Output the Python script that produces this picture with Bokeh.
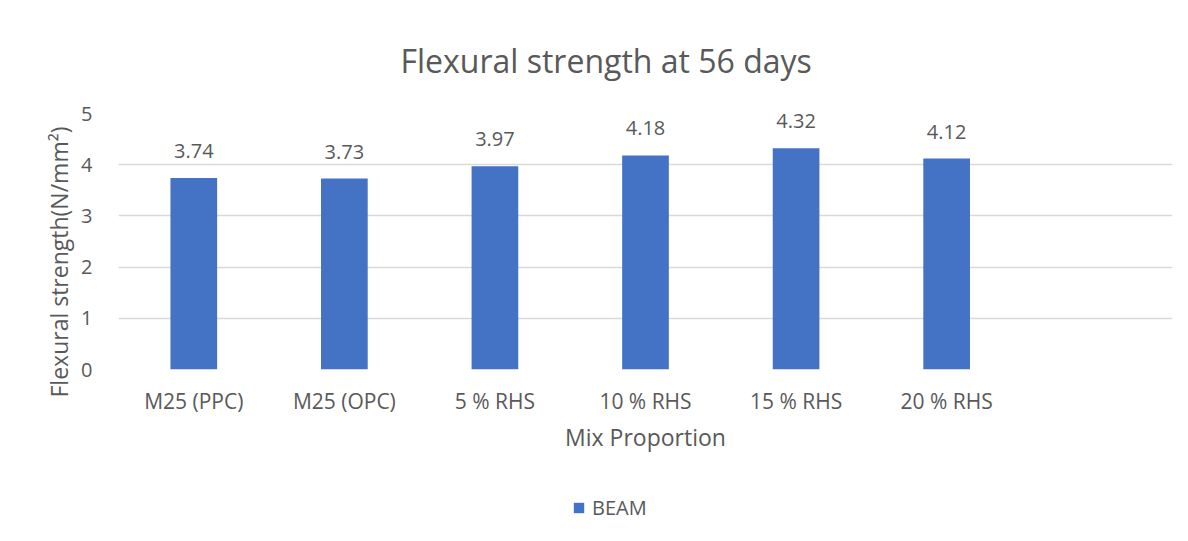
from bokeh.plotting import figure
from bokeh.layouts import column
from bokeh.models import Range1d, FixedTicker, Legend, LegendItem, ColumnDataSource, Title
from bokeh.core.properties import value
from bokeh.embed import file_html
from bokeh.resources import INLINE

categories = ["M25 (PPC)", "M25 (OPC)", "5 % RHS", "10 % RHS", "15 % RHS", "20 % RHS"]
beam = [3.74, 3.73, 3.97, 4.18, 4.32, 4.12]
y_ticks = [0, 1, 2, 3, 4, 5]
n_slots = 7  # Excel left an empty slot on the right
series_name = "BEAM"

FONT = "Open Sans"
TXT = "#595959"
BAR = "#4472C4"
GRID = "#D9D9D9"

xs = [i + 0.5 for i in range(len(categories))]
src = ColumnDataSource(dict(x=xs, y=beam, lbl=["%.2f" % v for v in beam]))

p = figure(frame_width=1054, frame_height=256, output_backend="svg", toolbar_location=None,
           x_range=Range1d(0, n_slots), y_range=Range1d(0, 5),
           min_border_left=108, min_border_right=8, min_border_top=110, min_border_bottom=90)
p.margin = (3, 0, 0, 10)
p.outline_line_color = None
p.background_fill_color = "white"
p.border_fill_color = "white"

r = p.vbar(x="x", top="y", width=0.31, source=src, fill_color=BAR, line_color=None)
p.text(x="x", y="y", text="lbl", source=src, text_align="center", text_baseline="bottom",
       y_offset=-20, text_font=value(FONT), text_font_size="20px", text_color=TXT)

p.title.text = "Flexural strength at 56 days"
p.title.align = "left"
p.title.offset = 282
p.title.text_font = FONT
p.title.text_font_size = "32px"
p.title.text_font_style = "normal"
p.title.text_color = TXT
p.title.standoff = 63

p.xgrid.visible = False
p.ygrid.grid_line_color = GRID
p.ygrid.grid_line_width = 1.5

xa = p.xaxis[0]
xa.ticker = FixedTicker(ticks=xs)
xa.major_label_overrides = {x: c for x, c in zip(xs, categories)}
xa.axis_line_color = None
xa.major_tick_line_color = None
xa.minor_tick_line_color = None
xa.major_label_text_font = FONT
xa.major_label_text_font_size = "21px"
xa.major_label_text_color = TXT
xa.major_label_standoff = 11
xa.axis_label = "Mix Proportion"
xa.axis_label_text_font = FONT
xa.axis_label_text_font_size = "23px"
xa.axis_label_text_font_style = "normal"
xa.axis_label_text_color = TXT
xa.axis_label_standoff = 3

ya = p.yaxis[0]
ya.ticker = FixedTicker(ticks=y_ticks)
ya.axis_line_color = None
ya.major_tick_line_color = None
ya.minor_tick_line_color = None
ya.major_label_text_font = FONT
ya.major_label_text_font_size = "20px"
ya.major_label_text_color = TXT
ya.major_label_standoff = 20

ytitle = Title(text="Flexural strength(N/mm²)", align="left", offset=-28,
               text_font=FONT, text_font_size="23px", text_font_style="normal",
               text_color=TXT, standoff=8)
p.add_layout(ytitle, "left")

# legend strip below the chart (same series; its bars lie outside this strip's range)
p2 = figure(width=1170, height=74, output_backend="svg", toolbar_location=None,
            x_range=Range1d(0, n_slots), y_range=Range1d(10, 11),
            x_axis_type=None, y_axis_type=None,
            min_border_left=0, min_border_right=0, min_border_top=0, min_border_bottom=0)
p2.margin = (0, 0, 0, 10)
p2.outline_line_color = None
p2.background_fill_color = "white"
p2.border_fill_color = "white"
swatch = p2.vbar(x="x", top="y", width=0.31, source=src, fill_color=BAR, line_color=None)
legend = Legend(items=[LegendItem(label=series_name, renderers=[swatch])],
                orientation="horizontal", location=(454, 12),
                border_line_color=None, background_fill_alpha=0,
                label_text_font=FONT, label_text_font_size="20px", label_text_color=TXT,
                glyph_width=13, glyph_height=13, margin=0, padding=0, label_standoff=7)
p2.add_layout(legend)

layout = column(p, p2, spacing=0)
open("out.html", "w").write(file_html(layout, INLINE))
